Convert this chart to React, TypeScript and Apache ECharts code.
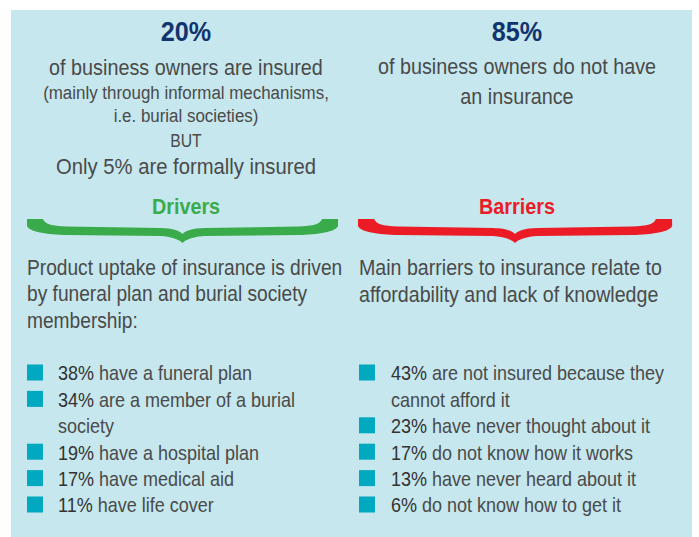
import React, { useEffect, useRef } from 'react';
import * as echarts from 'echarts';

// ---- content ----
const headlineFigures = ['20%', '85%'];
const insuredLines = [
  'of business owners are insured',
  '(mainly through informal mechanisms,',
  'i.e. burial societies)',
  'BUT',
  'Only 5% are formally insured',
];
const uninsuredLines = ['of business owners do not have', 'an insurance'];
const sectionTitles = ['Drivers', 'Barriers'];
const driversIntro = [
  'Product uptake of insurance is driven',
  'by funeral plan and burial society',
  'membership:',
];
const barriersIntro = [
  'Main barriers to insurance relate to',
  'affordability and lack of knowledge',
];
const driverShares = [38, 34, 19, 17, 11];
const driverLabels = [
  ['have a funeral plan'],
  ['are a member of a burial', 'society'],
  ['have a hospital plan'],
  ['have medical aid'],
  ['have life cover'],
];
const barrierShares = [43, 23, 17, 13, 6];
const barrierLabels = [
  ['are not insured because they', 'cannot afford it'],
  ['have never thought about it'],
  ['do not know how it works'],
  ['have never heard about it'],
  ['do not know how to get it'],
];

// ---- styling ----
const FONT = '"Liberation Sans", Arial, sans-serif';
const SX = 0.9;
const BG = '#c5e7ed';
const NAVY = '#12336e';
const GREY = '#4a4a4a';
const DARK = '#333333';
const GREEN = '#3aab4a';
const RED = '#ec1c26';
const TEAL = '#00a9bf';

const BW = 311;
const H = BW / 2;
const BRACE_D =
  `M0,0 L16,0 C18,5 24,7 40,7.5 L${H - 22},9 C${H - 10},9.5 ${H - 4},11 ${H},15 ` +
  `C${H + 4},11 ${H + 10},9.5 ${H + 22},9 L${BW - 40},7.5 C${BW - 24},7 ${BW - 18},5 ${BW - 16},0 ` +
  `L${BW},0 L${BW},7 C${BW - 2},13 ${BW - 20},15.5 ${BW - 40},16 L${H + 22},17 ` +
  `C${H + 12},17.5 ${H + 4},20 ${H},24 C${H - 4},20 ${H - 12},17.5 ${H - 22},17 ` +
  `L40,16 C20,15.5 2,13 0,7 Z`;

let registered = false;
function ensureShape() {
  if (registered) return;
  echarts.graphic.registerShape('brace', echarts.graphic.extendPath(BRACE_D, {}) as any);
  registered = true;
}

function txt(text: string, x: number, y: number, size: number, color: string, align = 'center', weight = 'normal'): any {
  return {
    type: 'text',
    x,
    y,
    scaleX: SX,
    silent: true,
    style: {
      text,
      fontSize: size,
      fontFamily: FONT,
      fontWeight: weight,
      fill: color,
      align,
      textAlign: align,
      verticalAlign: 'middle',
      textVerticalAlign: 'middle',
    },
  };
}

function bulletList(shares: number[], labels: string[][], sqX: number, textX: number, startY: number, step: number): any[] {
  const out: any[] = [];
  let line = 0;
  shares.forEach((s, i) => {
    const y = startY + line * step;
    out.push({
      type: 'rect',
      shape: { x: sqX, y: y - 9, width: 16, height: 16 },
      style: { fill: TEAL },
    });
    out.push({
      type: 'text',
      x: textX,
      y,
      scaleX: SX,
      style: {
        text: `{p|${s}%} ${labels[i][0]}`,
        fontSize: 20,
        fontFamily: FONT,
        fill: GREY,
        align: 'left',
        textAlign: 'left',
        verticalAlign: 'middle',
        textVerticalAlign: 'middle',
        rich: {
          p: { fontSize: 20, fontFamily: FONT, fill: DARK },
        },
      },
    });
    line++;
    for (let k = 1; k < labels[i].length; k++) {
      out.push(txt(labels[i][k], textX, startY + line * step, 20, GREY, 'left'));
      line++;
    }
  });
  return out;
}

export default function App() {
  const ref = useRef<HTMLDivElement>(null);
  useEffect(() => {
    if (!ref.current) return;
    ensureShape();
    const chart = echarts.init(ref.current, undefined, { renderer: 'svg' });

    const L = 186;
    const R = 517;
    const elements: any[] = [];
    elements.push({ type: 'rect', shape: { x: 11, y: 10, width: 681, height: 527 }, style: { fill: BG } });

    // headlines
    elements.push(txt(headlineFigures[0], L, 32, 28, NAVY, 'center', 'bold'));
    elements.push(txt(headlineFigures[1], R, 32, 28, NAVY, 'center', 'bold'));
    const insuredY = [67.5, 93, 115.5, 141, 167];
    const insuredSize = [22, 18.8, 18.8, 17.5, 22.5];
    insuredLines.forEach((t, i) => elements.push(txt(t, L, insuredY[i], insuredSize[i], GREY)));
    const uninsuredY = [66, 96];
    uninsuredLines.forEach((t, i) => elements.push(txt(t, R, uninsuredY[i], 22, GREY)));

    // section titles
    elements.push(txt(sectionTitles[0], L, 206, 22, GREEN, 'center', 'bold'));
    elements.push(txt(sectionTitles[1], R, 206, 22, RED, 'center', 'bold'));

    // braces
    elements.push({ type: 'brace', x: 27, y: 219, scaleX: 1, scaleY: 1, style: { fill: GREEN } });
    elements.push({ type: 'brace', x: 358, y: 219, scaleX: 314 / BW, scaleY: 1, style: { fill: RED } });

    // intros
    driversIntro.forEach((t, i) => elements.push(txt(t, 27, 267.5 + i * 26.5, 21.3, GREY, 'left')));
    barriersIntro.forEach((t, i) => elements.push(txt(t, 359, 267.5 + i * 26.5, 21.8, GREY, 'left')));

    // bullet lists
    elements.push(...bulletList(driverShares, driverLabels, 27, 58, 373.5, 26.4));
    elements.push(...bulletList(barrierShares, barrierLabels, 359, 391, 373.5, 26.4));

    chart.setOption({ animation: false, graphic: { elements } });
    return () => chart.dispose();
  }, []);
  return <div ref={ref} style={{ position: 'absolute', left: 0, top: 0, width: 699, height: 537, background: '#ffffff' }} />;
}
